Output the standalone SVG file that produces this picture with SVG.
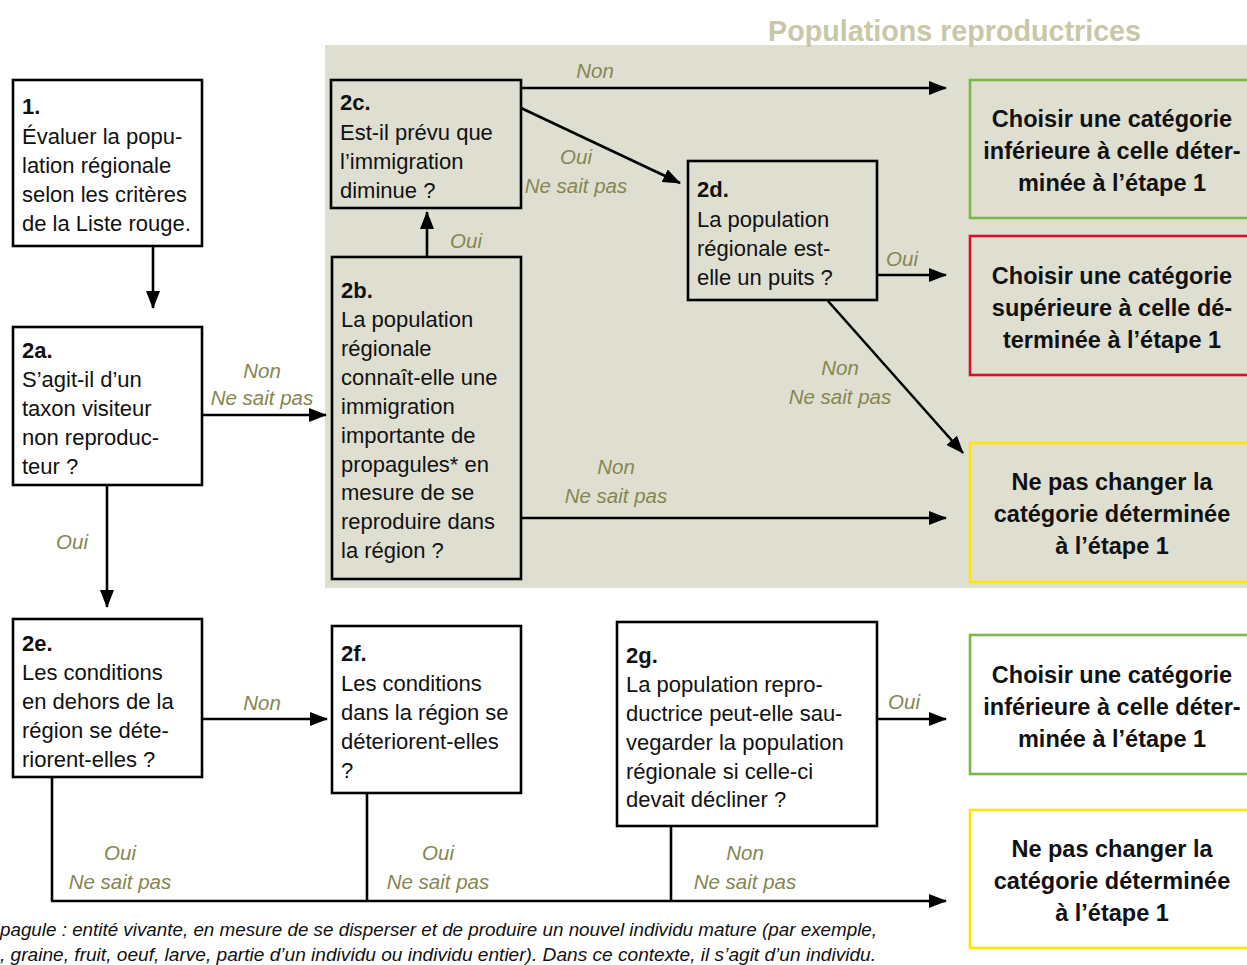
<svg xmlns="http://www.w3.org/2000/svg" width="1247" height="965" viewBox="0 0 1247 965">
<defs>
<marker id="ah" markerUnits="userSpaceOnUse" markerWidth="18" markerHeight="14" refX="17" refY="7" orient="auto">
<path d="M0,0 L18,7 L0,14 z" fill="#000"/>
</marker>
<style>
.box{fill:#fff;stroke:#000;stroke-width:2.6}
.sbox{fill:#dfdfd1;stroke:#000;stroke-width:2.6}
.t{font-family:"Liberation Sans",Arial,sans-serif;font-size:22px;fill:#111}
.b{font-weight:bold}
.o{font-family:"Liberation Sans",Arial,sans-serif;font-size:23.5px;font-weight:bold;fill:#111;text-anchor:middle}
.lab{font-family:"Liberation Sans",Arial,sans-serif;font-size:20.5px;font-style:italic;fill:#868650;text-anchor:middle}
.c{fill:none;stroke:#000;stroke-width:2.6}
.a{marker-end:url(#ah)}
.fn{font-family:"Liberation Sans",Arial,sans-serif;font-size:18px;font-style:italic;fill:#111}
</style>
</defs>
<rect x="0" y="0" width="1247" height="965" fill="#fff"/>
<rect x="325" y="45" width="922" height="543" fill="#dfdfd1"/>
<text x="768" y="41" font-family="Liberation Sans,Arial,sans-serif" font-size="28.7" font-weight="bold" fill="#c8c8a8">Populations reproductrices</text>

<g id="connectors">
<line class="c a" x1="153" y1="247" x2="153" y2="308"/>
<line class="c a" x1="202" y1="415" x2="326" y2="415"/>
<line class="c a" x1="107" y1="485" x2="107" y2="607"/>
<line class="c a" x1="427" y1="257" x2="427" y2="212"/>
<line class="c a" x1="521" y1="88" x2="946" y2="88"/>
<line class="c a" x1="521" y1="108" x2="680" y2="183"/>
<line class="c a" x1="877" y1="275" x2="946" y2="275"/>
<line class="c a" x1="828" y1="301" x2="963" y2="453"/>
<line class="c a" x1="521" y1="518" x2="946" y2="518"/>
<line class="c a" x1="202" y1="719" x2="327" y2="719"/>
<line class="c a" x1="877" y1="719" x2="946" y2="719"/>
<path class="c" d="M52,777 V901 M367,793 V901 M671,826 V901"/>
<line class="c a" x1="51" y1="901" x2="946" y2="901"/>
<text class="lab" x="262" y="378">Non</text>
<text class="lab" x="262" y="405">Ne sait pas</text>
<text class="lab" x="72" y="549">Oui</text>
<text class="lab" x="466" y="248">Oui</text>
<text class="lab" x="595" y="78">Non</text>
<text class="lab" x="576" y="164">Oui</text>
<text class="lab" x="576" y="193">Ne sait pas</text>
<text class="lab" x="902" y="266">Oui</text>
<text class="lab" x="840" y="375">Non</text>
<text class="lab" x="840" y="404">Ne sait pas</text>
<text class="lab" x="616" y="474">Non</text>
<text class="lab" x="616" y="503">Ne sait pas</text>
<text class="lab" x="262" y="710">Non</text>
<text class="lab" x="904" y="709">Oui</text>
<text class="lab" x="120" y="860">Oui</text>
<text class="lab" x="120" y="889">Ne sait pas</text>
<text class="lab" x="438" y="860">Oui</text>
<text class="lab" x="438" y="889">Ne sait pas</text>
<text class="lab" x="745" y="860">Non</text>
<text class="lab" x="745" y="889">Ne sait pas</text>
</g>

<g id="n1">
<rect class="box" x="13" y="80" width="189" height="166"/>
<text class="t b" x="22" y="114">1.</text>
<text class="t" x="22" y="144">Évaluer la popu-</text>
<text class="t" x="22" y="173">lation régionale</text>
<text class="t" x="22" y="202">selon les critères</text>
<text class="t" x="22" y="231">de la Liste rouge.</text>
</g>
<g id="n2a">
<rect class="box" x="13" y="327" width="189" height="158"/>
<text class="t b" x="22" y="358">2a.</text>
<text class="t" x="22" y="387">S’agit-il d’un</text>
<text class="t" x="22" y="416">taxon visiteur</text>
<text class="t" x="22" y="445">non reproduc-</text>
<text class="t" x="22" y="474">teur ?</text>
</g>
<g id="n2b">
<rect class="sbox" x="332" y="257" width="189" height="322"/>
<text class="t b" x="341" y="298">2b.</text>
<text class="t" x="341" y="327">La population</text>
<text class="t" x="341" y="356">régionale</text>
<text class="t" x="341" y="385">connaît-elle une</text>
<text class="t" x="341" y="414">immigration</text>
<text class="t" x="341" y="443">importante de</text>
<text class="t" x="341" y="472">propagules* en</text>
<text class="t" x="341" y="500">mesure de se</text>
<text class="t" x="341" y="529">reproduire dans</text>
<text class="t" x="341" y="558">la région ?</text>
</g>
<g id="n2c">
<rect class="sbox" x="331" y="80" width="190" height="128"/>
<text class="t b" x="340" y="110">2c.</text>
<text class="t" x="340" y="140">Est-il prévu que</text>
<text class="t" x="340" y="169">l’immigration</text>
<text class="t" x="340" y="198">diminue ?</text>
</g>
<g id="n2d">
<rect class="sbox" x="688" y="161" width="189" height="139"/>
<text class="t b" x="697" y="197">2d.</text>
<text class="t" x="697" y="227">La population</text>
<text class="t" x="697" y="256">régionale est-</text>
<text class="t" x="697" y="285">elle un puits ?</text>
</g>
<g id="n2e">
<rect class="box" x="13" y="619" width="189" height="158"/>
<text class="t b" x="22" y="651">2e.</text>
<text class="t" x="22" y="680">Les conditions</text>
<text class="t" x="22" y="709">en dehors de la</text>
<text class="t" x="22" y="738">région se déte-</text>
<text class="t" x="22" y="767">riorent-elles ?</text>
</g>
<g id="n2f">
<rect class="box" x="332" y="626" width="189" height="167"/>
<text class="t b" x="341" y="661">2f.</text>
<text class="t" x="341" y="691">Les conditions</text>
<text class="t" x="341" y="720">dans la région se</text>
<text class="t" x="341" y="749">déteriorent-elles</text>
<text class="t" x="341" y="778">?</text>
</g>
<g id="n2g">
<rect class="box" x="617" y="622" width="260" height="204"/>
<text class="t b" x="626" y="663">2g.</text>
<text class="t" x="626" y="692">La population repro-</text>
<text class="t" x="626" y="721">ductrice peut-elle sau-</text>
<text class="t" x="626" y="750">vegarder la population</text>
<text class="t" x="626" y="779">régionale si celle-ci</text>
<text class="t" x="626" y="807">devait décliner ?</text>
</g>

<g id="r1">
<rect x="970" y="80" width="290" height="138" fill="#dfdfd1" stroke="#7ab648" stroke-width="2.6"/>
<text class="o" x="1112" y="127">Choisir une catégorie</text>
<text class="o" x="1112" y="159">inférieure à celle déter-</text>
<text class="o" x="1112" y="191">minée à l’étape 1</text>
</g>
<g id="r2">
<rect x="970" y="236" width="290" height="139" fill="#dfdfd1" stroke="#d7102a" stroke-width="2.6"/>
<text class="o" x="1112" y="284">Choisir une catégorie</text>
<text class="o" x="1112" y="316">supérieure à celle dé-</text>
<text class="o" x="1112" y="348">terminée à l’étape 1</text>
</g>
<g id="r3">
<rect x="970" y="443" width="290" height="139" fill="#dfdfd1" stroke="#ffe500" stroke-width="2.6"/>
<text class="o" x="1112" y="490">Ne pas changer la</text>
<text class="o" x="1112" y="522">catégorie déterminée</text>
<text class="o" x="1112" y="554">à l’étape 1</text>
</g>
<g id="r4">
<rect x="970" y="635" width="290" height="139" fill="#fff" stroke="#7ab648" stroke-width="2.6"/>
<text class="o" x="1112" y="683">Choisir une catégorie</text>
<text class="o" x="1112" y="715">inférieure à celle déter-</text>
<text class="o" x="1112" y="747">minée à l’étape 1</text>
</g>
<g id="r5">
<rect x="970" y="810" width="290" height="138" fill="#fff" stroke="#ffe500" stroke-width="2.6"/>
<text class="o" x="1112" y="857">Ne pas changer la</text>
<text class="o" x="1112" y="889">catégorie déterminée</text>
<text class="o" x="1112" y="921">à l’étape 1</text>
</g>

<g id="footnote">
<text class="fn" x="0" y="936" textLength="877" lengthAdjust="spacingAndGlyphs">pagule : entité vivante, en mesure de se disperser et de produire un nouvel individu mature (par exemple,</text>
<text class="fn" x="0" y="961" textLength="876" lengthAdjust="spacingAndGlyphs">, graine, fruit, oeuf, larve, partie d’un individu ou individu entier). Dans ce contexte, il s’agit d’un individu.</text>
</g>
</svg>
